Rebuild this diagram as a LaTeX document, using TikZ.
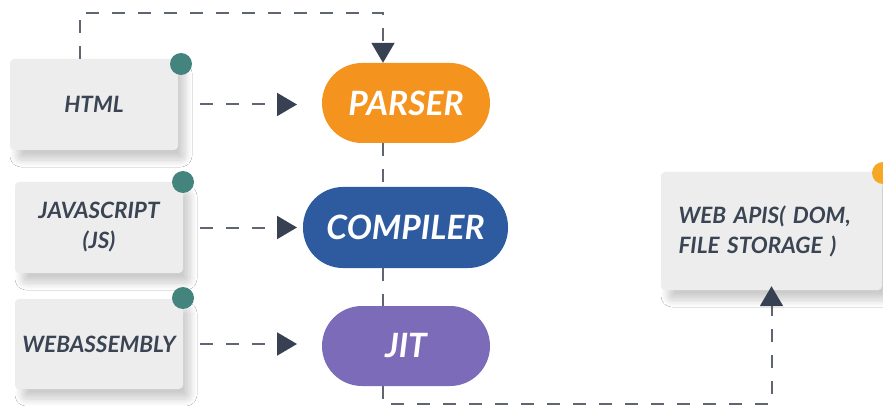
\documentclass[tikz,border=0pt]{standalone}
\usepackage{fontspec}
\setmainfont{Lato}
\usepackage{xcolor}
\usepackage{tikz}
\usetikzlibrary{arrows.meta,shadows.blur}
\definecolor{panel}{HTML}{EDEDED}
\definecolor{ink}{HTML}{3A4453}
\definecolor{dashline}{HTML}{5F6672}
\definecolor{tipdark}{HTML}{374151}
\definecolor{pinteal}{HTML}{44847F}
\definecolor{pinorange}{HTML}{F6A723}
\definecolor{parserorange}{HTML}{F5931F}
\definecolor{compilerblue}{HTML}{2E5B9F}
\definecolor{jitpurple}{HTML}{7C6BB9}

\begin{document}
\begin{tikzpicture}[x=1pt, y=-1pt,
  srcbox/.style={fill=panel, rounded corners=4pt, minimum width=168pt, minimum height=91pt,
    align=center, text=ink, font=\fontsize{22.5}{30}\selectfont\bfseries\itshape,
    blur shadow={shadow xshift=7pt, shadow yshift=-10pt, shadow blur radius=7pt,
      shadow blur steps=10, shadow opacity=20}},
  stage/.style={rounded corners=40pt, minimum width=168pt, minimum height=80pt,
    text=white, font=\fontsize{33.5}{36}\selectfont\bfseries\itshape},
  pin/.style={circle, fill=pinteal, minimum size=22pt, inner sep=0pt},
  flow/.style={dashline, line width=2pt, dash pattern=on 13pt off 13pt},
  tip/.style={-{Triangle[width=23pt, length=20pt, color=tipdark]}}]
  \fill[white] (0,0) rectangle (883,406);
  \useasboundingbox (0,0) rectangle (883,406);

  % source boxes on the left
  \node[srcbox] (html) at (94,104.5) {HTML};
  \node[srcbox] (js) at (99,227.5) {JAVASCRIPT\\(JS)};
  \node[srcbox, minimum height=90pt] (wasm) at (99,344) {WEBASSEMBLY};
  \node[pin] (htmlpin) at (181,64) {};
  \node[pin] (jspin) at (183,182) {};
  \node[pin] (wasmpin) at (183,298) {};

  % engine stages
  \node[stage, fill=parserorange] (parser) at (406,103) {PARSER};
  \node[stage, fill=compilerblue, minimum width=205pt, minimum height=81pt] (compiler) at (405.5,227.5) {COMPILER};
  \node[stage, fill=jitpurple] (jit) at (406,346) {JIT};

  % browser side
  \node[srcbox, minimum width=221pt, minimum height=118pt, text width=186pt, align=left, inner xsep=0pt] (webapi) at (771.5,231) {WEB APIS( DOM,\\FILE STORAGE )};
  \node[pin, fill=pinorange] (webpin) at (883,173) {};

  % dashed connectors
  \coordinate (spine) at (383,13);
  \coordinate (floor) at (383,404);
  \coordinate (gapl) at (200,0);
  \coordinate (gapr) at (297,0);
  \draw[flow, tip] ([xshift=70pt]html.north west) |- (spine) -- (parser.north -| spine);
  \draw[flow] (parser.south -| spine) -- (compiler.north -| spine);
  \draw[flow] (compiler.south -| spine) -- (jit.north -| spine);
  \draw[flow, tip, shorten >=-4pt] (jit.south -| spine) -- (floor) -| (webapi.south);
  \draw[flow, tip] (html.east -| gapl) -- (html.east -| gapr);
  \draw[flow, tip] (js.east -| gapl) -- (js.east -| gapr);
  \draw[flow, tip] (wasm.east -| gapl) -- (wasm.east -| gapr);
\end{tikzpicture}
\end{document}
